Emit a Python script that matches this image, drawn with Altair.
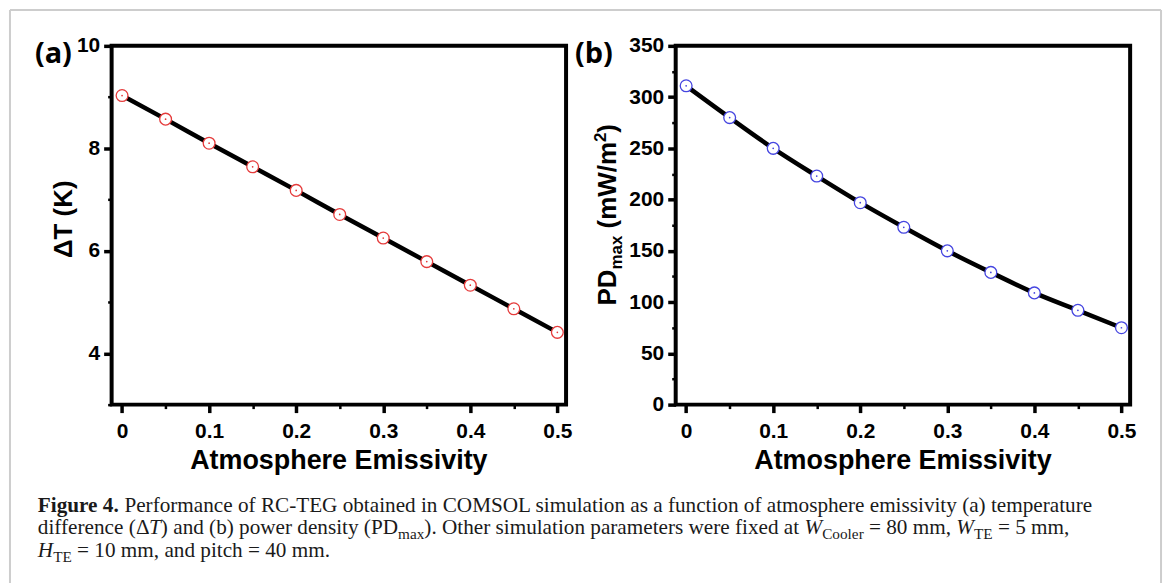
import altair as alt
import pandas as pd

# ---------------- data ----------------
emissivity = [0.0, 0.05, 0.10, 0.15, 0.20, 0.25, 0.30, 0.35, 0.40, 0.45, 0.50]
delta_t = [9.03, 8.57, 8.10, 7.64, 7.18, 6.71, 6.25, 5.79, 5.33, 4.87, 4.41]
pd_max = [311, 280, 250, 223, 197, 173, 150, 129, 109, 92, 75]

x_ticks = [0.0, 0.05, 0.1, 0.15, 0.2, 0.25, 0.3, 0.35, 0.4, 0.45, 0.5]
ya_ticks = [3, 4, 5, 6, 7, 8, 9, 10]
yb_ticks = [0, 25, 50, 75, 100, 125, 150, 175, 200, 225, 250, 275, 300, 325, 350]

x_title = "Atmosphere Emissivity"
ya_title = "ΔT (K)"
yb_title_parts = [("PD", "main"), ("max", "sub"), (" (mW/m", "main"), ("2", "sup"), (")", "main")]
panel_labels = ["(a)", "(b)"]

caption_lines = [
    [("Figure 4.", "b"),
     (" Performance of RC-TEG obtained in COMSOL simulation as a function of atmosphere emissivity (a) temperature", "r")],
    [("difference (", "r"), ("Δ", "r"), ("T", "i"), (") and (b) power density (PD", "r"), ("max", "s"),
     ("). Other simulation parameters were fixed at ", "r"), ("W", "i"), ("Cooler", "s"),
     (" = 80 mm, ", "r"), ("W", "i"), ("TE", "s"), (" = 5 mm,", "r")],
    [("H", "i"), ("TE", "s"), (" = 10 mm, and pitch = 40 mm.", "r")],
]

# ---------------- layout ----------------
A_LEFT, TOP = 110, 43
PLOT_W, PLOT_H = 456, 360
B_LEFT = 676
SPACING = B_LEFT - A_LEFT - PLOT_W
CANVAS_W, CANVAS_H = 1170, 583
X_DOMAIN = [-0.012, 0.51]
SANS = "Liberation Sans"
SERIF = "Liberation Serif"

# font metrics (Times / Arial compatible) in 1/1000 em
_tr = dict(zip("ABCDEFGHIJKLMNOPQRSTUVWXYZ",
               [722, 667, 667, 722, 611, 556, 722, 722, 333, 389, 722, 611, 889, 722, 722, 556, 722, 667,
                556, 611, 722, 722, 944, 722, 722, 611]))
_tr.update(dict(zip("abcdefghijklmnopqrstuvwxyz",
                    [444, 500, 444, 500, 444, 333, 500, 500, 278, 278, 500, 278, 778, 500, 500, 500, 500, 333,
                     389, 278, 500, 500, 722, 500, 500, 444])))
_tr.update({" ": 250, "(": 333, ")": 333, ",": 250, "-": 333, ".": 250, "=": 564, "/": 278, "Δ": 612})
_tr.update({d: 500 for d in "0123456789"})
_tb = dict(_tr)
_tb.update({"F": 611, "i": 278, "g": 500, "u": 556, "r": 444, "e": 444, "4": 500, ".": 250, " ": 250})
_ti = dict(_tr)
_ti.update({"T": 556, "W": 833, "H": 722})
_ab = {" ": 278, "(": 333, ")": 333, "/": 278, "2": 556, "P": 667, "D": 722, "m": 889, "a": 556, "x": 556,
       "W": 944}


def width_em(s, table):
    return sum(table.get(c, 500) for c in s) / 1000.0


def lead_em(s, table):
    n = len(s) - len(s.lstrip(" "))
    return n * table.get(" ", 250) / 1000.0


tables = {"r": _tr, "b": _tb, "i": _ti, "s": _tr}

# caption font size chosen so that the first line spans the width seen in the figure
line1_em = sum(width_em(t, tables[k]) for t, k in caption_lines[0])
CAP_FS = (1095 - 36) / line1_em
SUB_FS = CAP_FS * 0.72
baselines = [510.5, 533, 555.5]

one = pd.DataFrame({"k": [0]})


def txt(text, x, y, size, font=SANS, weight="normal", style="normal", angle=0, align="left", color="black"):
    return alt.Chart(one).mark_text(
        text=text, font=font, fontSize=size, fontWeight=weight, fontStyle=style, angle=angle,
        align=align, baseline="alphabetic", color=color
    ).encode(x=alt.value(x), y=alt.value(y))


def caption_layers():
    layers = []
    for line, base in zip(caption_lines, baselines):
        cx = 36.0
        for t, k in line:
            size = SUB_FS if k == "s" else CAP_FS
            y = base + (CAP_FS * 0.25 if k == "s" else 0)
            weight = "bold" if k == "b" else "normal"
            style = "italic" if k == "i" else "normal"
            start = cx + lead_em(t, tables[k]) * size
            layers.append(txt(t.strip(" "), start - A_LEFT, y - TOP, size, font=SERIF, weight=weight,
                              style=style, color="#1a1a1a"))
            cx += width_em(t, tables[k]) * size
    return layers


def frame_layers():
    bg = alt.Chart(one).mark_rect(fill="white", fillOpacity=0, strokeWidth=0).encode(
        x=alt.value(-A_LEFT), x2=alt.value(CANVAS_W - A_LEFT),
        y=alt.value(-TOP), y2=alt.value(CANVAS_H - TOP))
    bc = "#cdcdcd"
    left = alt.Chart(one).mark_rule(color=bc, strokeWidth=2).encode(
        x=alt.value(8 - A_LEFT), y=alt.value(7 - TOP), y2=alt.value(CANVAS_H - TOP))
    right = alt.Chart(one).mark_rule(color=bc, strokeWidth=2).encode(
        x=alt.value(1163 - A_LEFT), y=alt.value(7 - TOP), y2=alt.value(CANVAS_H - TOP))
    top = alt.Chart(one).mark_rule(color=bc, strokeWidth=2).encode(
        x=alt.value(8 - A_LEFT), x2=alt.value(1163 - A_LEFT), y=alt.value(7 - TOP))
    return [bg, left, right, top]


XMAJOR = "abs(datum.value*10 - round(datum.value*10)) < 0.000001"


def axis_common(major, values, label_expr, pad):
    return dict(
        values=values, title=None, grid=False, domain=False, zindex=1,
        labelExpr=label_expr,
        tickSize={"condition": {"test": major, "value": 8}, "value": 4},
        tickWidth={"condition": {"test": major, "value": 3.5}, "value": 2.5},
        tickColor="black", labelColor="black", labelFont=SANS, labelFontSize=21,
        labelFontWeight="bold", labelPadding=pad, labelFlush=False, labelOverlap=False,
    )


def panel(yvals, ycol, ydomain, yticks, ymajor, color):
    df = pd.DataFrame({"e": emissivity, ycol: yvals})
    x = alt.X("e:Q", scale=alt.Scale(domain=X_DOMAIN, nice=False, zero=False),
              axis=alt.Axis(**axis_common(XMAJOR, x_ticks,
                                          f"{XMAJOR} ? format(datum.value, '~g') : ''", 8)))
    y = alt.Y(f"{ycol}:Q", scale=alt.Scale(domain=ydomain, nice=False, zero=False),
              axis=alt.Axis(**axis_common(ymajor, yticks, f"({ymajor}) ? datum.label : ''", 4)))
    base = alt.Chart(df).encode(x=x, y=y)
    line = base.mark_line(color="black", strokeWidth=4.5, interpolate="monotone")
    pts = base.mark_point(shape="circle", filled=True, fill="white", stroke=color, strokeWidth=1.3,
                          size=140, opacity=1)
    dots = base.mark_point(shape="circle", filled=True, color=color, size=3, opacity=1)
    return [line, pts, dots]


# ----- panel (a) -----
a_layers = frame_layers()
a_layers += panel(delta_t, "dt", [3, 10], ya_ticks, "datum.value % 2 == 0", "#e53b3b")
a_layers.append(txt(ya_title, 70 - A_LEFT, 217 - TOP, 26, weight="bold", angle=270, align="center"))
a_layers.append(txt(x_title, PLOT_W / 2, 468 - TOP, 27, weight="bold", align="center"))
a_layers.append(txt(panel_labels[0], 33 - A_LEFT, 60 - TOP, 29, font="Open Sans", weight="bold"))
a_layers += caption_layers()
chart_a = alt.layer(*a_layers).properties(width=PLOT_W, height=PLOT_H)

# ----- panel (b) -----
b_layers = panel(pd_max, "pdm", [0, 350], yb_ticks, "datum.value % 50 == 0", "#4545e0")
b_layers.append(txt(x_title, PLOT_W / 2, 468 - TOP, 27, weight="bold", align="center"))
b_layers.append(txt(panel_labels[1], 575 - B_LEFT, 60 - TOP, 29, font="Open Sans", weight="bold"))
# rotated y title with sub/superscript pieces
sizes = {"main": 26, "sub": 17, "sup": 17}
shift = {"main": 0, "sub": 6, "sup": -10}
total = sum(width_em(t, _ab) * sizes[k] for t, k in yb_title_parts)
ycur = 212.5 + total / 2
for t, k in yb_title_parts:
    start = ycur - lead_em(t, _ab) * sizes[k]
    b_layers.append(txt(t.strip(" "), 616 - B_LEFT + shift[k], start - TOP, sizes[k], weight="bold", angle=270))
    ycur -= width_em(t, _ab) * sizes[k]
chart_b = alt.layer(*b_layers).properties(width=PLOT_W, height=PLOT_H)

chart = alt.HConcatChart(hconcat=[chart_a, chart_b], spacing=SPACING, bounds="flush").properties(
    padding=0, background="white"
).configure_view(stroke="black", strokeWidth=4)

chart.save("out.html", embed_options={"renderer": "svg", "actions": False})
